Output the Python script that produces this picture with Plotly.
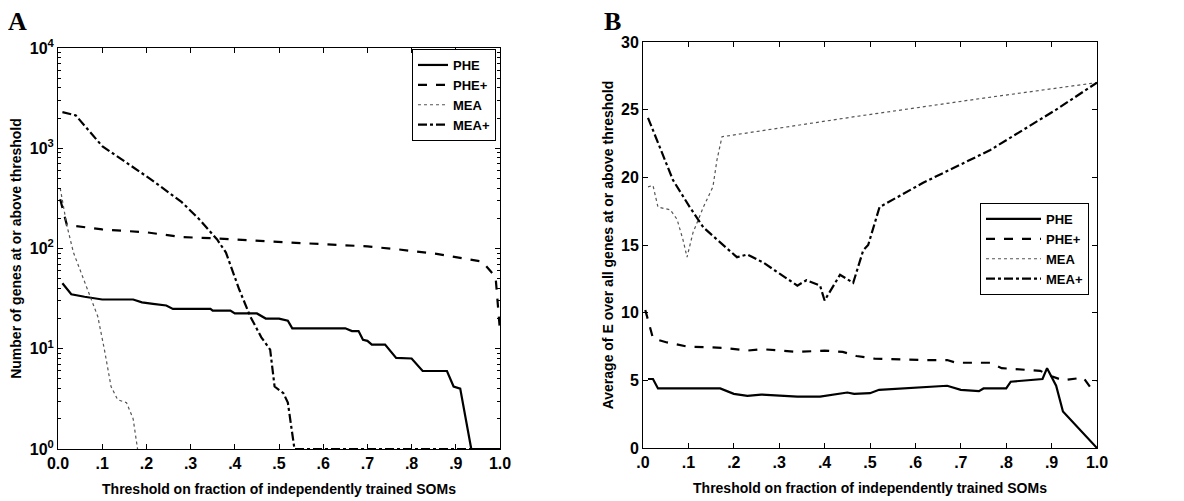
import plotly.graph_objects as go

# ---------------- Panel A data (log scale counts) ----------------
a_phe_x = [0.01, 0.03, 0.06, 0.10, 0.17, 0.19, 0.215, 0.245, 0.26, 0.345, 0.35, 0.39, 0.40, 0.45, 0.47, 0.50,
           0.52, 0.53, 0.65, 0.665, 0.68, 0.69, 0.70, 0.71, 0.74, 0.765, 0.80, 0.825, 0.88, 0.895, 0.91, 0.935, 1.0]
a_phe_y = [45, 35, 33, 31, 31, 29, 28, 27, 25, 25, 24, 24, 22.5, 22.5, 20, 20,
           19, 16, 16, 15, 15, 12.3, 12, 11, 11, 8.1, 8, 6, 6, 4.2, 4, 1, 1]

a_pheplus_x = [0.005, 0.02, 0.10, 0.20, 0.28, 0.36, 0.47, 0.62, 0.70, 0.77, 0.86, 0.96, 0.99, 1.0]
a_pheplus_y = [310, 172, 155, 145, 130, 126, 118, 110, 105, 98, 88, 74, 52, 15]

a_mea_x = [0.005, 0.01, 0.02, 0.035, 0.06, 0.09, 0.105, 0.12, 0.135, 0.155, 0.17, 0.18]
a_mea_y = [400, 300, 170, 91, 46, 21, 9.8, 4.2, 3.1, 2.9, 2.0, 1]

a_meaplus_x = [0.01, 0.04, 0.10, 0.21, 0.28, 0.32, 0.36, 0.38, 0.41, 0.435, 0.46, 0.48, 0.49, 0.51, 0.52, 0.535, 1.0]
a_meaplus_y = [2290, 2130, 1050, 490, 290, 195, 123, 91, 39, 21, 13, 9.8, 4.2, 3.6, 2.9, 1, 1]

# ---------------- Panel B data (average E) ----------------
b_phe_x = [0.011, 0.022, 0.033, 0.17, 0.20, 0.23, 0.26, 0.34, 0.39, 0.45, 0.465, 0.50, 0.52, 0.62, 0.67, 0.70,
           0.74, 0.75, 0.80, 0.81, 0.88, 0.89, 0.91, 0.925, 1.0]
b_phe_y = [5.1, 5.1, 4.4, 4.4, 4.0, 3.85, 3.95, 3.8, 3.8, 4.1, 4.0, 4.05, 4.3, 4.5, 4.6, 4.3,
           4.2, 4.4, 4.4, 4.9, 5.1, 5.9, 4.6, 2.7, 0.0]

b_pheplus_x = [0.005, 0.022, 0.053, 0.097, 0.177, 0.23, 0.264, 0.34, 0.40, 0.44, 0.47, 0.51, 0.62, 0.67, 0.69,
               0.765, 0.79, 0.875, 0.90, 0.925, 0.97, 0.985, 1.0]
b_pheplus_y = [10.2, 8.1, 7.8, 7.5, 7.4, 7.2, 7.3, 7.1, 7.2, 7.1, 6.8, 6.6, 6.5, 6.5, 6.3,
               6.3, 5.9, 5.7, 5.3, 5.0, 5.2, 4.5, 4.9]

b_mea_x = [0.011, 0.022, 0.033, 0.06, 0.075, 0.088, 0.097, 0.11, 0.133, 0.154, 0.163, 0.174, 0.47, 0.76, 1.0]
b_mea_y = [19.3, 19.4, 17.8, 17.6, 16.9, 15.4, 14.1, 15.9, 17.8, 19.3, 21.3, 23.0, 24.5, 25.9, 27.0]

b_meaplus_x = [0.011, 0.066, 0.103, 0.133, 0.163, 0.19, 0.207, 0.23, 0.265, 0.30, 0.34, 0.36, 0.39, 0.40,
               0.434, 0.463, 0.485, 0.496, 0.521, 0.617, 0.764, 0.91, 1.0]
b_meaplus_y = [24.4, 19.8, 17.8, 16.3, 15.4, 14.6, 14.1, 14.3, 13.7, 12.9, 12.0, 12.4, 12.0, 10.9,
               12.8, 12.2, 14.6, 15.0, 17.8, 19.6, 22.0, 25.0, 27.0]

names = ["PHE", "PHE+", "MEA", "MEA+"]
a_tick_vals = [0, 0.1, 0.2, 0.3, 0.4, 0.5, 0.6, 0.7, 0.8, 0.9, 1.0]
a_tick_text = ["0.0", ".1", ".2", ".3", ".4", ".5", ".6", ".7", ".8", ".9", "1.0"]
b_tick_text = [".0", ".1", ".2", ".3", ".4", ".5", ".6", ".7", ".8", ".9", "1.0"]
a_y_vals = [1, 10, 100, 1000, 10000]
a_y_text = ["10<sup>0</sup>", "10<sup>1</sup>", "10<sup>2</sup>", "10<sup>3</sup>", "10<sup>4</sup>"]
a_y_minor = [m * d for d in [1, 10, 100, 1000] for m in range(2, 10)]
b_y_vals = [0, 5, 10, 15, 20, 25, 30]

styles = [
    dict(color="black", width=2.2, dash="solid"),
    dict(color="black", width=2.2, dash="dash"),
    dict(color="#555555", width=1.2, dash="dot"),
    dict(color="black", width=2.2, dash="dashdot"),
]

fig = go.Figure()
a_data = [(a_phe_x, a_phe_y), (a_pheplus_x, a_pheplus_y), (a_mea_x, a_mea_y), (a_meaplus_x, a_meaplus_y)]
b_data = [(b_phe_x, b_phe_y), (b_pheplus_x, b_pheplus_y), (b_mea_x, b_mea_y), (b_meaplus_x, b_meaplus_y)]

for (x, y), n, s in zip(a_data, names, styles):
    fig.add_trace(go.Scatter(x=x, y=y, mode="lines", name=n, line=s, xaxis="x", yaxis="y", legend="legend"))
for (x, y), n, s in zip(b_data, names, styles):
    fig.add_trace(go.Scatter(x=x, y=y, mode="lines", name=n, line=s, xaxis="x2", yaxis="y2", legend="legend2"))

# page body has an 8px margin; the figure is placed at (8, 8) inside the 1184x501 window
OFF = 8
W, H = 1184 - OFF, 501 - OFF


def px(x):
    return (x - OFF) / W


def py(y):
    return 1 - (y - OFF) / H


fam = "Liberation Sans, Arial, sans-serif"
font = dict(family=fam, size=16, color="black", weight="bold")
tfont = dict(family=fam, size=14, color="black", weight="bold")
lfont = dict(family=fam, size=13, color="black", weight="bold")

common_axis = dict(showline=True, linecolor="black", linewidth=1, mirror="ticks", ticks="inside",
                   ticklen=5, tickcolor="black", showgrid=False, zeroline=False, tickfont=font,
                   automargin=False)

fig.update_layout(
    width=W, height=H,
    margin=dict(l=0, r=0, t=0, b=0, autoexpand=False),
    paper_bgcolor="white", plot_bgcolor="white",
    font=font,
    xaxis=dict(domain=[px(58), px(500)], range=[0, 1], tickvals=a_tick_vals, ticktext=a_tick_text,
               anchor="y", title=dict(text="Threshold on fraction of independently trained SOMs", font=tfont, standoff=12),
               **common_axis),
    yaxis=dict(domain=[py(449), py(48)], type="log", range=[0, 4], tickvals=a_y_vals, ticktext=a_y_text,
               anchor="x", title=dict(text="Number of genes at or above threshold", font=tfont, standoff=5),
               minor=dict(tickvals=a_y_minor, ticks="inside", ticklen=3, tickcolor="black", showgrid=False),
               **common_axis),
    xaxis2=dict(domain=[px(643), px(1097)], range=[0, 1], tickvals=a_tick_vals, ticktext=b_tick_text,
                anchor="y2", title=dict(text="Threshold on fraction of independently trained SOMs", font=tfont, standoff=12),
                **common_axis),
    yaxis2=dict(domain=[py(448), py(42)], range=[0, 30], tickvals=b_y_vals,
                anchor="x2", title=dict(text="Average of E over all genes at or above threshold", font=tfont, standoff=4),
                **common_axis),
    legend=dict(x=px(496), y=py(49), xanchor="right", yanchor="top", bgcolor="white",
                bordercolor="black", borderwidth=1, font=lfont, tracegroupgap=0, itemwidth=30),
    legend2=dict(x=px(1089), y=py(203), xanchor="right", yanchor="top", bgcolor="white",
                 bordercolor="black", borderwidth=1, font=lfont, tracegroupgap=0, itemwidth=55),
    showlegend=True,
)

serif = dict(family="Liberation Serif, Times New Roman, serif", size=26, color="black", weight="bold")
fig.add_annotation(text="A", x=px(6), y=py(5), xref="paper", yref="paper", xanchor="left", yanchor="top",
                   showarrow=False, font=serif)
fig.add_annotation(text="B", x=px(602), y=py(5), xref="paper", yref="paper", xanchor="left", yanchor="top",
                   showarrow=False, font=serif)

fig.write_html("out.html")
